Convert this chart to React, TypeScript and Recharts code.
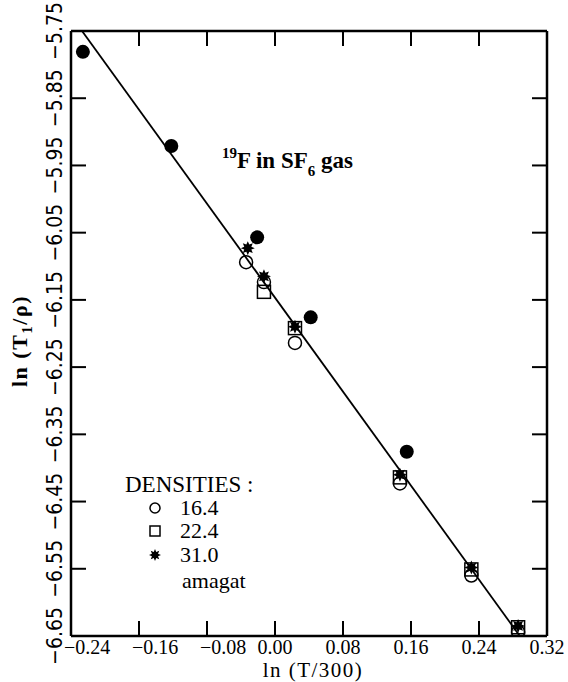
import React from "react";
import { ScatterChart, Scatter, XAxis, YAxis, ReferenceLine } from "recharts";

// ln(T/300) ticks and labels
const xTicks = [-0.24, -0.16, -0.08, 0, 0.08, 0.16, 0.24, 0.32];
const xTickLabels = ["−0.24", "−0.16", "−0.08", "0.00", "0.08", "0.16", "0.24", "0.32"];
// ln(T1/rho) ticks and labels
const yTicks = [-5.75, -5.85, -5.95, -6.05, -6.15, -6.25, -6.35, -6.45, -6.55, -6.65];
const yTickLabels = ["−5.75", "−5.85", "−5.95", "−6.05", "−6.15", "−6.25", "−6.35", "−6.45", "−6.55", "−6.65"];

// filled circles
const filledX = [-0.226, -0.122, -0.021, 0.042, 0.155];
const filledY = [-5.781, -5.921, -6.057, -6.176, -6.376];
// 16.4 amagat
const circleX = [-0.034, -0.013, 0.0235, 0.147, 0.231, 0.286];
const circleY = [-6.094, -6.1235, -6.214, -6.423, -6.56, -6.644];
// 22.4 amagat
const squareX = [-0.013, 0.0235, 0.147, 0.231, 0.286];
const squareY = [-6.138, -6.192, -6.414, -6.551, -6.637];
// 31.0 amagat
const starX = [-0.032, -0.013, 0.0235, 0.147, 0.231, 0.286];
const starY = [-6.073, -6.115, -6.19, -6.41, -6.548, -6.635];
// fitted line
const fitX = [-0.227, 0.288];
const fitY = [-5.75, -6.65];

const zip = (xs: number[], ys: number[]) => xs.map((x, i) => ({ x, y: ys[i] }));

const W = 568;
const H = 682;
const TOP = 31;
const BOTTOM = 636;
const LEFT = 71;
const RIGHT = 547;
const serif = "'Liberation Serif', 'DejaVu Serif', 'Times New Roman', Times, serif";
const narrow = "'Liberation Sans Narrow', 'DejaVu Sans Condensed', Arial, sans-serif";

const starPoints = (cx: number, cy: number, ro: number, ri: number) => {
  const pts: string[] = [];
  for (let i = 0; i < 16; i++) {
    const r = i % 2 === 0 ? ro : ri;
    const a = (Math.PI * i) / 8 - Math.PI / 2;
    pts.push(`${cx + r * Math.cos(a)},${cy + r * Math.sin(a)}`);
  }
  return pts.join(" ");
};

const FilledDot = (p: any) => <circle cx={p.cx} cy={p.cy} r={7} fill="#000" />;
const OpenCircle = (p: any) => (
  <circle cx={p.cx} cy={p.cy} r={p.rad ?? 6.5} fill="none" stroke="#000" strokeWidth={1.5} />
);
const OpenSquare = (p: any) => {
  const s = p.rad ?? 6.5;
  return <rect x={p.cx - s} y={p.cy - s} width={s * 2} height={s * 2} fill="none" stroke="#000" strokeWidth={1.5} />;
};
const Star = (p: any) => {
  const s = p.rad ?? 7;
  return <polygon points={starPoints(p.cx, p.cy, s, s * 0.55)} fill="#000" />;
};

const XTick = (props: any) => {
  const { x, payload } = props;
  const i = xTicks.indexOf(payload.value);
  const label = xTickLabels[i];
  const neg = payload.value < 0;
  return (
    <g>
      <line x1={x} y1={BOTTOM} x2={x} y2={BOTTOM - 15} stroke="#000" strokeWidth={2} />
      <line x1={x} y1={TOP} x2={x} y2={TOP + 15} stroke="#000" strokeWidth={2} />
      <text
        x={neg ? x - 7 : x}
        y={654}
        textAnchor={neg ? "start" : "middle"}
        style={{ fontFamily: serif }}
        fontSize={20}
        fill="#000"
      >
        {label}
      </text>
    </g>
  );
};

const YTick = (props: any) => {
  const { y, payload } = props;
  const i = yTicks.findIndex((t) => Math.abs(t - payload.value) < 1e-6);
  const label = yTickLabels[i];
  return (
    <g>
      <line x1={LEFT} y1={y} x2={LEFT + 15} y2={y} stroke="#000" strokeWidth={2} />
      <line x1={RIGHT} y1={y} x2={RIGHT - 15} y2={y} stroke="#000" strokeWidth={2} />
      <text
        x={62}
        y={y}
        transform={`rotate(-90 62 ${y})`}
        textAnchor="middle"
        style={{ fontFamily: narrow }}
        fontSize={21}
        fill="#000"
      >
        {label}
      </text>
    </g>
  );
};

const txt = { fontFamily: serif };

const App = () => {
  return (
    <div style={{ position: "absolute", left: 0, top: 0, width: W, height: H, background: "#fff" }}>
      <ScatterChart
        width={W}
        height={H}
        margin={{ top: TOP, right: W - RIGHT, bottom: H - BOTTOM - 30, left: LEFT - 60 }}
      >
        <XAxis
          type="number"
          dataKey="x"
          domain={[-0.24, 0.32]}
          ticks={xTicks}
          tick={<XTick />}
          tickLine={false}
          axisLine={{ stroke: "#000", strokeWidth: 2.5 }}
          height={30}
          allowDataOverflow
        />
        <YAxis
          type="number"
          dataKey="y"
          domain={[-6.65, -5.75]}
          ticks={yTicks}
          tick={<YTick />}
          tickLine={false}
          axisLine={{ stroke: "#000", strokeWidth: 2.5 }}
          width={60}
          allowDataOverflow
        />
        <ReferenceLine y={-5.75} stroke="#000" strokeWidth={2.5} />
        <ReferenceLine x={0.32} stroke="#000" strokeWidth={2.5} />
        <Scatter
          data={zip(fitX, fitY)}
          line={{ stroke: "#000", strokeWidth: 1.8 }}
          shape={() => <g />}
          isAnimationActive={false}
        />
        <Scatter data={zip(circleX, circleY)} shape={OpenCircle} isAnimationActive={false} />
        <Scatter data={zip(squareX, squareY)} shape={OpenSquare} isAnimationActive={false} />
        <Scatter data={zip(starX, starY)} shape={Star} isAnimationActive={false} />
        <Scatter data={zip(filledX, filledY)} shape={FilledDot} isAnimationActive={false} />
      </ScatterChart>
      <svg
        width={W}
        height={H}
        style={{ position: "absolute", left: 0, top: 0, pointerEvents: "none" }}
      >
        <text x={222} y={168} style={txt} fontSize={23} fontWeight="bold" fill="#000">
          <tspan fontSize={15} dy={-10}>19</tspan>
          <tspan dy={10}>F in SF</tspan>
          <tspan fontSize={15} dy={8}>6</tspan>
          <tspan dy={-8}> gas</tspan>
        </text>

        <text x={125} y={492} style={txt} fontSize={23} fill="#000">DENSITIES :</text>
        <OpenCircle cx={155} cy={508} rad={5} />
        <text x={180} y={515} style={txt} fontSize={22} fill="#000">16.4</text>
        <OpenSquare cx={155} cy={531} rad={5} />
        <text x={180} y={538} style={txt} fontSize={22} fill="#000">22.4</text>
        <Star cx={155} cy={555} rad={6} />
        <text x={180} y={562} style={txt} fontSize={22} fill="#000">31.0</text>
        <text x={182} y={588} style={txt} fontSize={22} fill="#000">amagat</text>

        <text
          x={27}
          y={341}
          transform="rotate(-90 27 341)"
          textAnchor="middle"
          style={txt}
          fontSize={22}
          fontWeight="bold"
          letterSpacing={1.5}
          fill="#000"
        >
          ln (T<tspan fontSize={15} dy={5}>1</tspan>
          <tspan dy={-5}>/ρ)</tspan>
        </text>
        <text x={313} y={677} textAnchor="middle" style={txt} fontSize={21} letterSpacing={1.5} fill="#000">
          ln (T/300)
        </text>
      </svg>
    </div>
  );
};

export default App;
